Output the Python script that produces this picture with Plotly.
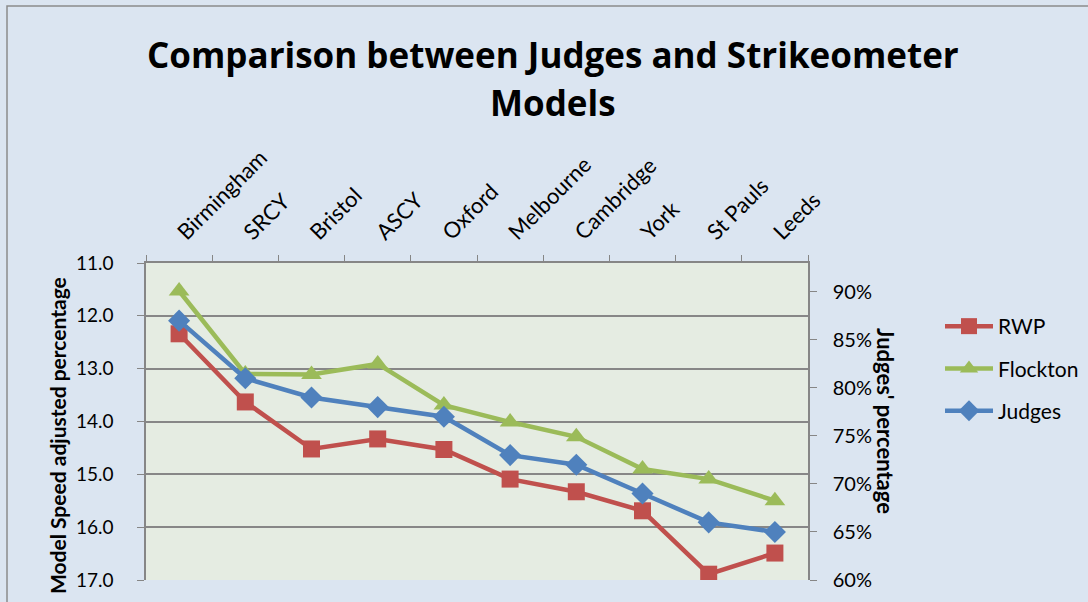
import plotly.graph_objects as go

categories = ["Birmingham", "SRCY", "Bristol", "ASCY", "Oxford", "Melbourne",
              "Cambridge", "York", "St Pauls", "Leeds"]
rwp = [12.34, 13.63, 14.52, 14.33, 14.53, 15.09, 15.33, 15.69, 16.89, 16.49]
flockton = [11.53, 13.10, 13.11, 12.91, 13.69, 14.01, 14.29, 14.90, 15.09, 15.50]
judges = [0.87, 0.81, 0.79, 0.78, 0.77, 0.73, 0.72, 0.69, 0.66, 0.65]

W, H = 1088, 602
L, R, T, B = 146, 808, 263, 580
FONT = "Lato"

fig = go.Figure()
fig.add_trace(go.Scatter(x=categories, y=rwp, name="RWP", mode="lines+markers",
                         legendgroup="a",
                         line=dict(color="#C0504D", width=4.5),
                         marker=dict(symbol="square", size=17, color="#C0504D"),
                         yaxis="y"))
fig.add_trace(go.Scatter(x=categories, y=flockton, name="Flockton", mode="lines+markers",
                         legendgroup="b",
                         line=dict(color="#9BBB59", width=4.5),
                         marker=dict(symbol="triangle-up", size=18, color="#9BBB59"),
                         yaxis="y"))
fig.add_trace(go.Scatter(x=categories, y=judges, name="Judges", mode="lines+markers",
                         legendgroup="c",
                         line=dict(color="#4F81BD", width=4.5),
                         marker=dict(symbol="diamond", size=17, color="#4F81BD"),
                         yaxis="y2"))

pw = R - L
ph = B - T
def px(x):
    return (x - L) / pw
def py(y):
    return (B - y) / ph

fig.update_layout(
    width=W, height=H,
    margin=dict(l=L, r=W - R, t=T, b=H - B, autoexpand=False),
    paper_bgcolor="#DBE5F1",
    plot_bgcolor="#E5ECE2",
    font=dict(family=FONT, color="#000000", size=19),
    showlegend=True,
    legend=dict(x=px(940), y=py(306), xanchor="left", yanchor="top",
                bgcolor="rgba(0,0,0,0)", font=dict(size=21, family=FONT),
                tracegroupgap=12, itemwidth=48),
    xaxis=dict(side="top", type="category", tickangle=-45, tickson="boundaries",
               ticks="outside", ticklen=6, tickcolor="#868686",
               showline=True, linecolor="#868686", linewidth=1.5,
               showgrid=False, tickfont=dict(size=22, family=FONT),
               ticklabelstandoff=8,
               range=[-0.5, 9.5], fixedrange=True, mirror=False),
    yaxis=dict(range=[17, 11], dtick=1, tickformat=".1f",
               ticks="outside", ticklen=7, tickcolor="#868686",
               showline=True, linecolor="#868686", linewidth=1.5,
               showgrid=True, gridcolor="#878787", gridwidth=1.5,
               ticklabelstandoff=20,
               zeroline=False, tickfont=dict(size=19, family=FONT)),
    yaxis2=dict(range=[0.6, 0.93], dtick=0.05, tick0=0.6, tickformat=".0%",
                overlaying="y", side="right",
                ticks="outside", ticklen=7, tickcolor="#868686",
                showline=True, linecolor="#868686", linewidth=1.5,
                ticklabelstandoff=12,
                showgrid=False, zeroline=False, tickfont=dict(size=20, family=FONT)),
)

# chart border
fig.add_shape(type="rect", xref="paper", yref="paper",
              x0=px(7), x1=px(1100), y0=py(700), y1=py(6),
              line=dict(color="#8C8C8C", width=1.5), fillcolor="rgba(0,0,0,0)",
              layer="below")

fig.add_annotation(text="<b>Comparison between Judges and Strikeometer</b>",
                   xref="paper", yref="paper", x=px(553), y=py(54),
                   xanchor="center", yanchor="middle", showarrow=False,
                   font=dict(size=35, family="Open Sans", color="#000000"))
fig.add_annotation(text="<b>Models</b>",
                   xref="paper", yref="paper", x=px(553), y=py(102),
                   xanchor="center", yanchor="middle", showarrow=False,
                   font=dict(size=35, family="Open Sans", color="#000000"))
fig.add_annotation(text="<b>Model Speed adjusted percentage</b>", textangle=-90,
                   xref="paper", yref="paper", x=px(57), y=py(436),
                   xanchor="center", yanchor="middle", showarrow=False,
                   font=dict(size=21, family=FONT))
fig.add_annotation(text="<b>Judges' percentage</b>", textangle=90,
                   xref="paper", yref="paper", x=px(886), y=py(421),
                   xanchor="center", yanchor="middle", showarrow=False,
                   font=dict(size=22, family=FONT))

fig.write_html("out.html", config={"displayModeBar": False},
               post_script="document.body.style.margin='0px';document.body.style.overflow='hidden';")
